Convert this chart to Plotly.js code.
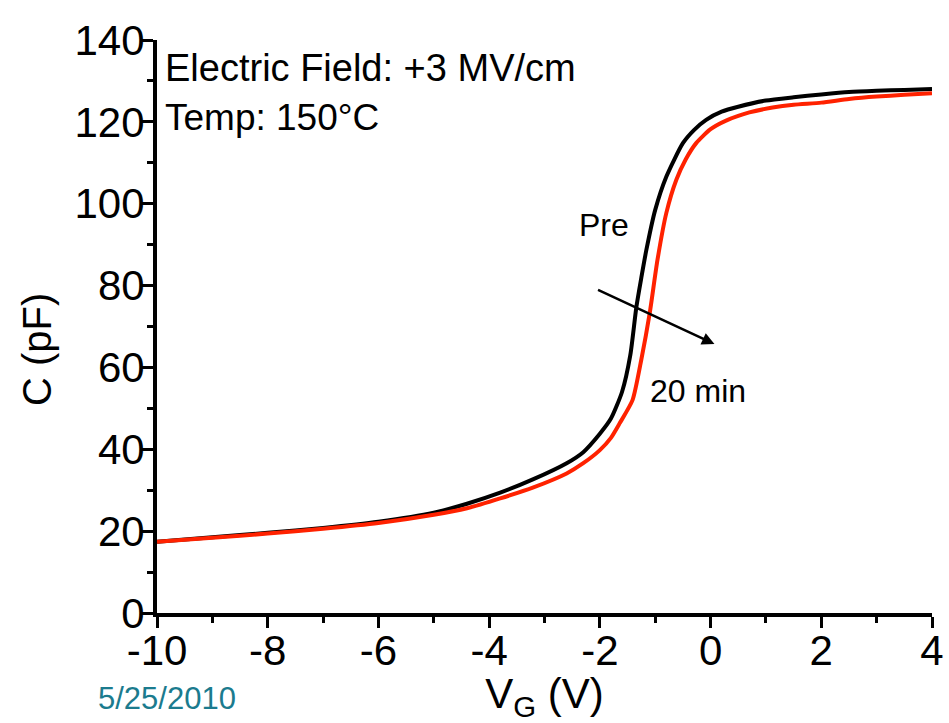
<!DOCTYPE html>
<html>
<head>
<meta charset="utf-8">
<script src="https://cdn.plot.ly/plotly-3.0.1.min.js"></script>
<style>html,body{margin:0;padding:0;background:#fff;}</style>
</head>
<body>
<div id="chart" style="width:949px;height:723px;"></div>
<script>
// Pre (black)
const preV = [-10, -9, -8, -7, -6, -5, -4.4, -3.8, -3.2, -2.6, -2.3, -2.0, -1.8, -1.6, -1.45, -1.34, -1.25, -1.16, -1.0, -0.8, -0.5, -0.3, -0.08, 0.2, 0.5, 1.0, 1.5, 2.0, 2.5, 3.0, 3.5, 4.0];
const preC = [17.4, 18.5, 19.6, 20.8, 22.3, 24.5, 26.7, 29.4, 32.7, 36.6, 39.3, 43.8, 47.5, 54.0, 63.0, 74.8, 82.0, 88.7, 98.5, 106.6, 114.8, 118.0, 120.5, 122.5, 123.7, 125.2, 126.0, 126.7, 127.3, 127.6, 127.8, 128.0];
// 20 min (red)
const minV = [-10, -9, -8, -7, -6, -5, -4.4, -3.8, -3.2, -2.6, -2.3, -2.0, -1.8, -1.64, -1.41, -1.25, -1.1, -0.96, -0.8, -0.62, -0.45, -0.26, 0, 0.28, 0.7, 1.12, 1.5, 2.0, 2.5, 3.0, 3.5, 4.0];
const minC = [17.4, 18.4, 19.4, 20.6, 22.0, 24.0, 25.6, 28.0, 30.7, 34.1, 36.6, 39.8, 42.8, 46.4, 52.0, 62.0, 73.2, 86.2, 97.7, 105.8, 110.8, 114.8, 118.2, 120.3, 122.3, 123.5, 124.2, 124.7, 125.6, 126.2, 126.6, 127.0];

const xTicks = [-10, -8, -6, -4, -2, 0, 2, 4];
const yTicks = [0, 20, 40, 60, 80, 100, 120, 140];

const sans = "'Liberation Sans', Arial, sans-serif";

const traces = [
  {x: preV, y: preC, type: 'scatter', mode: 'lines', name: 'Pre',
   line: {color: '#000000', width: 4, shape: 'spline', smoothing: 0.6}},
  {x: minV, y: minC, type: 'scatter', mode: 'lines', name: '20 min',
   line: {color: '#ff2200', width: 4, shape: 'spline', smoothing: 0.6}}
];

const layout = {
  width: 949, height: 723,
  margin: {l: 157, r: 17, t: 40, b: 110},
  paper_bgcolor: '#ffffff', plot_bgcolor: '#ffffff',
  showlegend: false,
  xaxis: {
    range: [-10, 4], tickvals: xTicks, ticktext: xTicks.map(String),
    showgrid: false, zeroline: false, showline: true, linecolor: '#000', linewidth: 4,
    ticks: 'outside', ticklen: 11, tickwidth: 3, tickcolor: '#000',
    minor: {dtick: 1, ticks: 'outside', ticklen: 6, tickwidth: 3, tickcolor: '#000'},
    tickfont: {family: sans, size: 42, color: '#000'},
    ticklabelstandoff: -13,
    title: {text: 'V<sub>G</sub> (V)', font: {family: sans, size: 42, color: '#000'}, standoff: 0},
    automargin: false
  },
  yaxis: {
    range: [0, 140], tickvals: yTicks, ticktext: yTicks.map(String),
    showgrid: false, zeroline: false, showline: true, linecolor: '#000', linewidth: 4,
    ticks: 'outside', ticklen: 11, tickwidth: 3, tickcolor: '#000',
    minor: {dtick: 10, ticks: 'outside', ticklen: 6, tickwidth: 3, tickcolor: '#000'},
    tickfont: {family: sans, size: 42, color: '#000'},
    ticklabelstandoff: -11,
    automargin: false
  },
  xaxis2: {
    overlaying: 'x', side: 'top', anchor: 'y', range: [-10, 4],
    showgrid: false, zeroline: false, showline: true, linecolor: '#000', linewidth: 4,
    showticklabels: false, ticks: 'inside', dtick: 1, tick0: 0, ticklen: 3, tickwidth: 2, tickcolor: '#000'
  },
  yaxis2: {
    overlaying: 'y', side: 'right', anchor: 'x', range: [0, 140],
    showgrid: false, zeroline: false, showline: true, linecolor: '#000', linewidth: 4,
    showticklabels: false, ticks: 'inside', dtick: 10, tick0: 0, ticklen: 4, tickwidth: 2, tickcolor: '#000'
  },
  annotations: [
    {x: -0.155, y: 0.4605, xref: 'paper', yref: 'paper', xanchor: 'center', yanchor: 'middle', showarrow: false,
     textangle: -90, text: 'C (pF)', font: {family: sans, size: 40, color: '#000'}},
    {x: -9.9, y: 133.2, xref: 'x', yref: 'y', xanchor: 'left', yanchor: 'middle', showarrow: false,
     text: 'Electric Field: +3 MV/cm', font: {family: sans, size: 38, color: '#000'}},
    {x: -9.9, y: 121.0, xref: 'x', yref: 'y', xanchor: 'left', yanchor: 'middle', showarrow: false,
     text: 'Temp: 150°C', font: {family: sans, size: 37, color: '#000'}},
    {x: -1.93, y: 94.8, xref: 'x', yref: 'y', xanchor: 'center', yanchor: 'middle', showarrow: false,
     text: 'Pre', font: {family: sans, size: 32, color: '#000'}},
    {x: -0.235, y: 54.2, xref: 'x', yref: 'y', xanchor: 'center', yanchor: 'middle', showarrow: false,
     text: '20 min', font: {family: sans, size: 32, color: '#000'}},
    {x: 0.07, y: 65.7, ax: -2.06, ay: 79.1, xref: 'x', yref: 'y', axref: 'x', ayref: 'y',
     showarrow: true, arrowhead: 2, arrowsize: 1, arrowwidth: 2.5, arrowcolor: '#000', text: ''},
    {x: 0.013, y: -0.149, xref: 'paper', yref: 'paper', xanchor: 'center', yanchor: 'middle', showarrow: false,
     text: '5/25/2010', font: {family: sans, size: 31, color: '#1b7b8e'}}
  ]
};

Plotly.newPlot('chart', traces, layout, {displayModeBar: false, staticPlot: true});
</script>
</body>
</html>
